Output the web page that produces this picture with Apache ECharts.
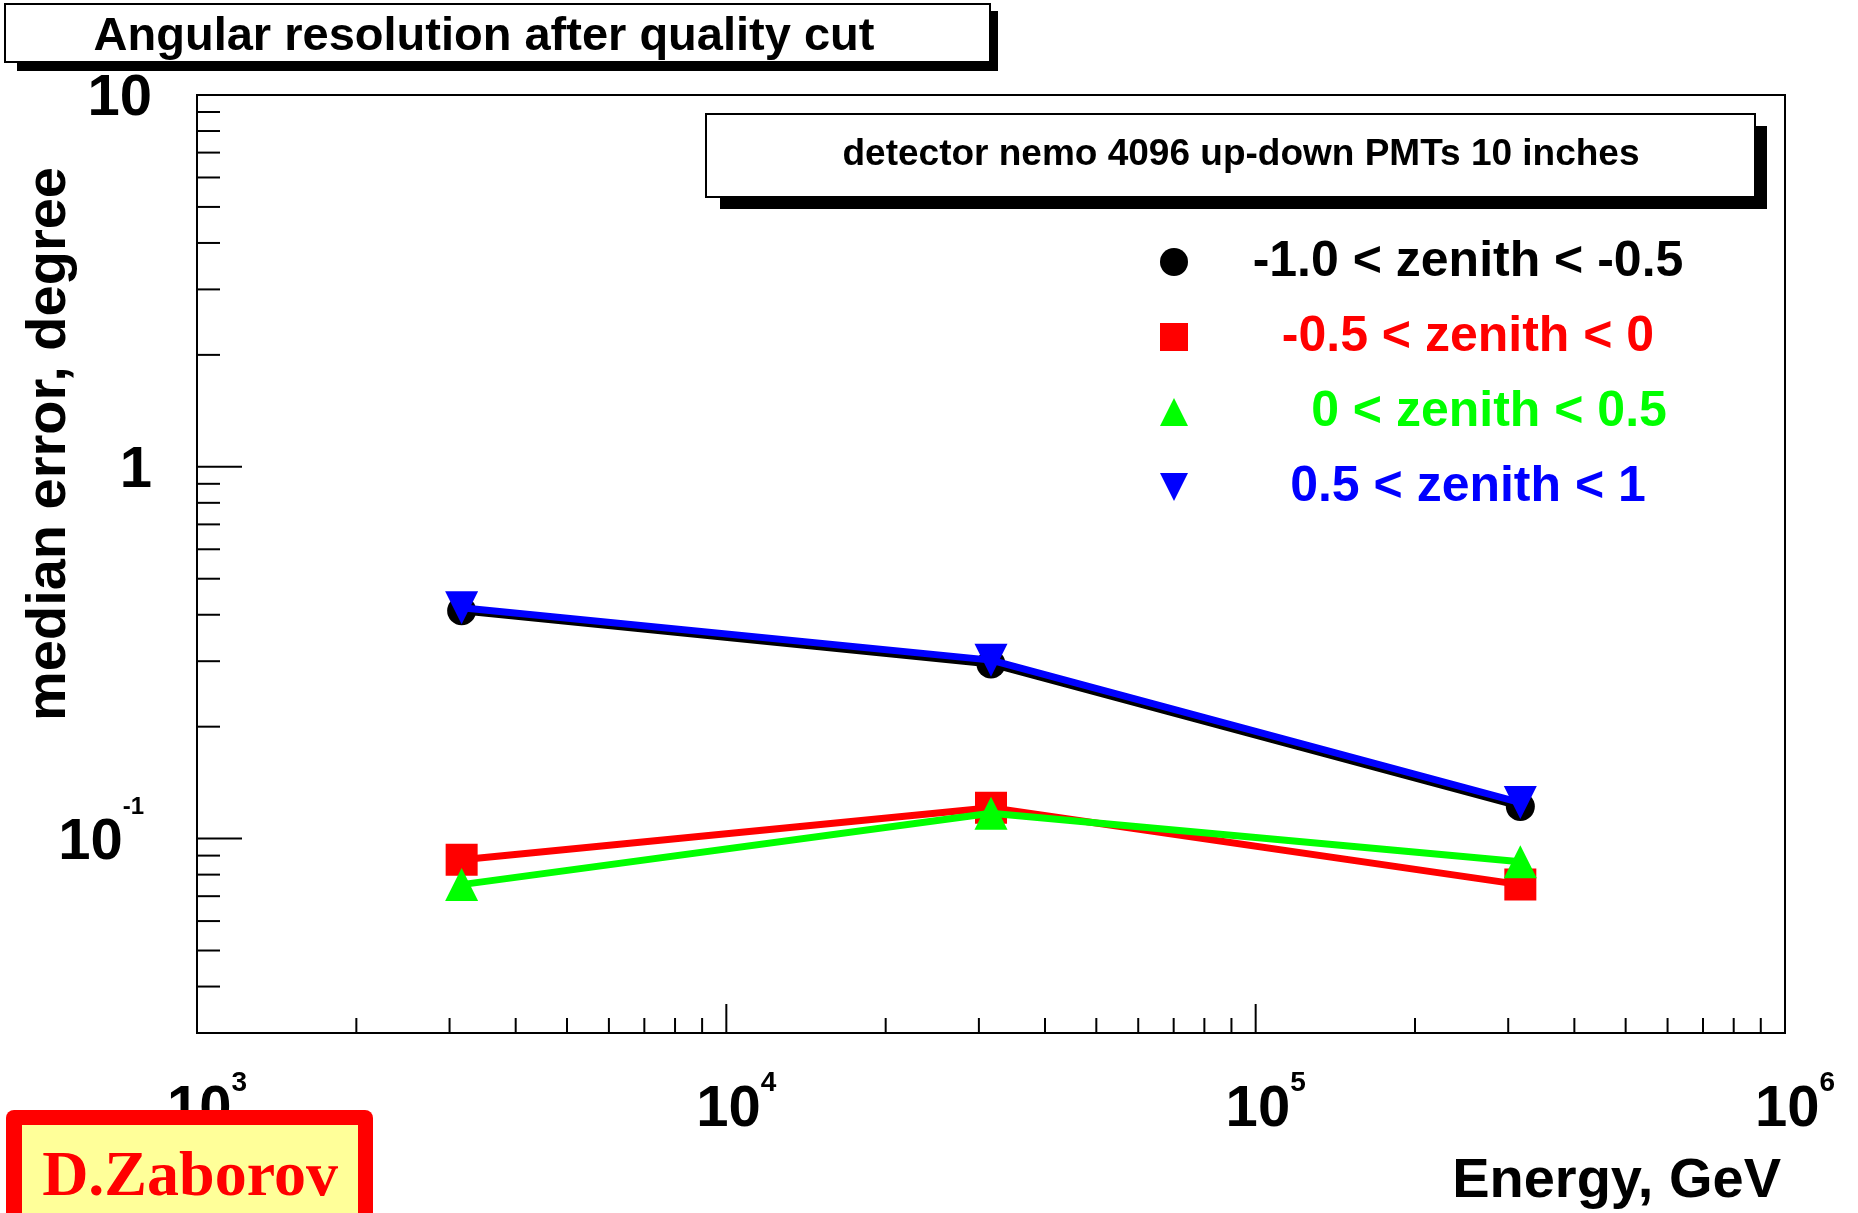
<!DOCTYPE html>
<html><head><meta charset="utf-8">
<script src="https://cdn.jsdelivr.net/npm/echarts@6/dist/echarts.min.js"></script>
<style>html,body{margin:0;padding:0;background:#fff}#c{width:1858px;height:1213px}</style>
</head><body><div id="c"></div>
<script>
// ---- data ----
const energies = [3162, 31623, 316228];
const seriesNames = ['-1.0 < zenith < -0.5', '-0.5 < zenith < 0', '0 < zenith < 0.5', '0.5 < zenith < 1'];
const zenMinus1 = [0.41, 0.295, 0.122];
const zenMinusHalf = [0.0877, 0.121, 0.0752];
const zenZero = [0.0752, 0.117, 0.0866];
const zenHalf = [0.418, 0.302, 0.125];
const xTickExponents = [3, 4, 5, 6];
const yTickLabelValues = [0.1, 1, 10];
const yTickLabelMain = ['10', '1', '10'];
const yTickLabelSup = ['-1', '', ''];
const xMajorTicks = [1e4, 1e5];
const xMinorTicks = [2e3,3e3,4e3,5e3,6e3,7e3,8e3,9e3,2e4,3e4,4e4,5e4,6e4,7e4,8e4,9e4,2e5,3e5,4e5,5e5,6e5,7e5,8e5,9e5];
const yMajorTicks = [0.1, 1];
const yMinorTicks = [0.04,0.05,0.06,0.07,0.08,0.09,0.2,0.3,0.4,0.5,0.6,0.7,0.8,0.9,2,3,4,5,6,7,8,9];
const X_MIN = 1000, X_MAX = 1e6, Y_MIN = 0.03, Y_MAX = 10;

const SANS = "'Liberation Sans', Arial, Helvetica, sans-serif";
const NARROW = "'Liberation Sans Narrow', 'Liberation Sans', Arial, sans-serif";

const chart = echarts.init(document.getElementById('c'), null, {renderer: 'canvas'});

function tickSeries(name, data, isY) {
  return {
    type: 'custom', name: name, silent: true, z: 5,
    dimensions: ['x', 'y', 'major'],
    encode: {x: 0, y: 1},
    data: data,
    renderItem: function (params, api) {
      const p = api.coord([api.value(0), api.value(1)]);
      const major = api.value(2) === 1;
      if (isY) {
        const len = major ? 45 : 23;
        return {type: 'line', shape: {x1: p[0], y1: p[1], x2: p[0] + len, y2: p[1]}, style: {stroke: '#000', lineWidth: 2}};
      } else {
        const len = major ? 29 : 15;
        return {type: 'line', shape: {x1: p[0], y1: p[1], x2: p[0], y2: p[1] - len}, style: {stroke: '#000', lineWidth: 2}};
      }
    }
  };
}

const yTickData = yMajorTicks.map(v => [X_MIN, v, 1]).concat(yMinorTicks.map(v => [X_MIN, v, 0]));
const xTickData = xMajorTicks.map(v => [v, Y_MIN, 1]).concat(xMinorTicks.map(v => [v, Y_MIN, 0]));

function lineSeries(idx, values, symbol, size, color, rotate) {
  return {
    type: 'line', name: seriesNames[idx],
    data: energies.map((e, i) => [e, values[i]]),
    symbol: symbol, symbolSize: size, symbolRotate: rotate || 0,
    showAllSymbol: true,
    lineStyle: {color: color, width: 7},
    itemStyle: {color: color, borderWidth: 0},
    z: 3 + idx, zlevel: 0,
    emphasis: {disabled: true}
  };
}

const legendRich = {};
const legendColors = ['#000000', '#ff0000', '#00ff00', '#0000ff'];
legendColors.forEach((c, i) => {
  legendRich['t' + i] = {color: c, fontFamily: SANS, fontWeight: 'bold', fontSize: 50, lineHeight: 50,
    width: i === 2 ? 508 : 550, align: 'center', padding: i === 2 ? [0, 0, 0, 42] : 0};
});

const option = {
  animation: false,
  backgroundColor: '#ffffff',
  grid: {left: 197, top: 95, width: 1588, height: 938, show: true, borderColor: '#000', borderWidth: 2,
         backgroundColor: 'transparent', containLabel: false, outerBoundsMode: 'none'},
  xAxis: {
    type: 'log', logBase: 10, min: X_MIN, max: X_MAX,
    axisLine: {show: true, lineStyle: {color: '#000', width: 2}},
    axisTick: {show: false}, splitLine: {show: false}, minorTick: {show: false},
    axisLabel: {
      margin: 36, showMinLabel: true, showMaxLabel: true,
      formatter: function (v) {
        const l = Math.log10(v), e = Math.round(l);
        if (Math.abs(l - e) > 1e-6 || xTickExponents.indexOf(e) < 0) return '';
        return '{b|10}{s|' + e + '}';
      },
      rich: {
        b: {fontSize: 58, fontWeight: 'bold', fontFamily: NARROW, color: '#000', padding: [12, 0, 0, 20], verticalAlign: 'bottom'},
        s: {fontSize: 28, fontWeight: 'bold', fontFamily: NARROW, color: '#000', verticalAlign: 'top'}
      }
    }
  },
  yAxis: {
    type: 'log', logBase: 10, min: Y_MIN, max: Y_MAX,
    axisLine: {show: true, lineStyle: {color: '#000', width: 2}},
    axisTick: {show: false}, splitLine: {show: false}, minorTick: {show: false},
    axisLabel: {
      margin: 45, showMinLabel: true, showMaxLabel: true,
      formatter: function (v) {
        for (let i = 0; i < yTickLabelValues.length; i++) {
          if (Math.abs(Math.log10(v) - Math.log10(yTickLabelValues[i])) < 1e-6) {
            return yTickLabelSup[i] ? '{b|' + yTickLabelMain[i] + '}{s|' + yTickLabelSup[i] + '}' : '{b|' + yTickLabelMain[i] + '}';
          }
        }
        return '';
      },
      rich: {
        b: {fontSize: 58, fontWeight: 'bold', fontFamily: NARROW, color: '#000', padding: [20, 0, 12, 0], verticalAlign: 'bottom'},
        s: {fontSize: 24, fontWeight: 'bold', fontFamily: NARROW, color: '#000', verticalAlign: 'top', padding: [2, 8, 0, 0]}
      }
    }
  },
  legend: {
    orient: 'vertical', left: 1160, top: 237, itemWidth: 28, itemHeight: 28, itemGap: 25,
    selectedMode: false, padding: 0,
    data: [
      {name: seriesNames[0], icon: 'circle'},
      {name: seriesNames[1], icon: 'rect'},
      {name: seriesNames[2], icon: 'triangle'},
      {name: seriesNames[3], icon: 'path://M0,0L10,0L5,10Z'}
    ],
    formatter: function (name) { return '{t' + seriesNames.indexOf(name) + '|' + name + '}'; },
    textStyle: {rich: legendRich}
  },
  series: [
    tickSeries('yticks', yTickData, true),
    tickSeries('xticks', xTickData, false),
    lineSeries(0, zenMinus1, 'circle', 29, '#000000'),
    lineSeries(1, zenMinusHalf, 'rect', 32, '#ff0000'),
    lineSeries(2, zenZero, 'triangle', 33, '#00ff00'),
    lineSeries(3, zenHalf, 'triangle', 33, '#0000ff', 180)
  ],
  graphic: [
    // title box
    {type: 'rect', z: 50, shape: {x: 17, y: 11, width: 981, height: 60}, style: {fill: '#000'}},
    {type: 'rect', z: 51, shape: {x: 5, y: 4, width: 985, height: 58}, style: {fill: '#fff', stroke: '#000', lineWidth: 2}},
    {type: 'text', z: 52, x: 484, y: 37, style: {text: 'Angular resolution after quality cut', fill: '#000',
      font: 'bold 47px ' + SANS, align: 'center', verticalAlign: 'middle'}},
    // info box
    {type: 'rect', z: 50, shape: {x: 720, y: 126, width: 1047, height: 83}, style: {fill: '#000'}},
    {type: 'rect', z: 51, shape: {x: 706, y: 114, width: 1049, height: 83}, style: {fill: '#fff', stroke: '#000', lineWidth: 2}},
    {type: 'text', z: 52, x: 1241, y: 155, style: {text: 'detector nemo 4096 up-down PMTs 10 inches', fill: '#000',
      font: 'bold 37px ' + SANS, align: 'center', verticalAlign: 'middle'}},
    // axis titles
    {type: 'text', z: 52, x: 50, y: 444, rotation: Math.PI / 2, style: {text: 'median error, degree', fill: '#000',
      font: 'bold 56px ' + SANS, align: 'center', verticalAlign: 'middle'}},
    {type: 'text', z: 52, x: 1781, y: 1182, style: {text: 'Energy, GeV', fill: '#000',
      font: 'bold 56px ' + SANS, align: 'right', verticalAlign: 'middle'}},
    // author box
    {type: 'rect', z: 60, shape: {x: 6, y: 1110, width: 367, height: 120, r: 8}, style: {fill: '#ff0000'}},
    {type: 'rect', z: 61, shape: {x: 22, y: 1125, width: 336, height: 100}, style: {fill: '#ffff99'}},
    {type: 'text', z: 62, x: 190, y: 1178, style: {text: 'D.Zaborov', fill: '#ff0000',
      font: 'bold 64px "Liberation Serif", "Times New Roman", serif', align: 'center', verticalAlign: 'middle'}}
  ]
};
chart.setOption(option);
</script></body></html>
